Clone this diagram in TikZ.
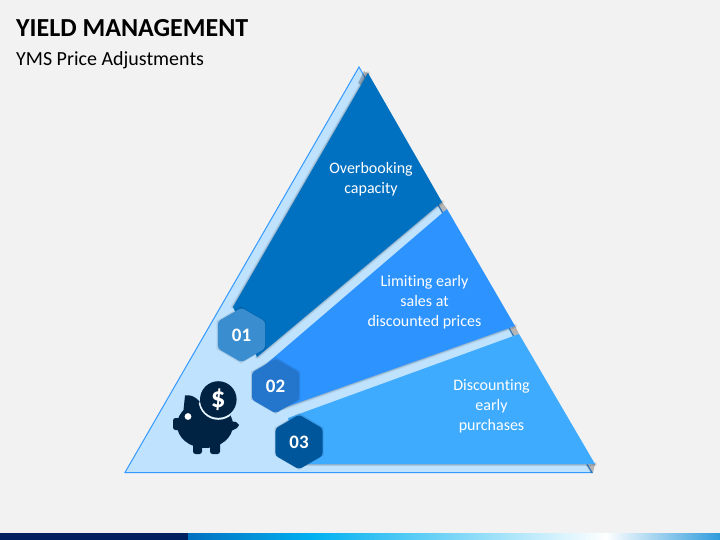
\documentclass[tikz,border=0pt]{standalone}
\usepackage{fontspec}
\setmainfont[Ligatures=NoCommon]{Carlito}
\usetikzlibrary{shapes.geometric}
\definecolor{bgc}{HTML}{F2F2F2}
\definecolor{lightb}{HTML}{BFE3FF}
\definecolor{edgeb}{HTML}{3399FF}
\definecolor{wa}{HTML}{0070C0}
\definecolor{wb}{HTML}{2D93FF}
\definecolor{wc}{HTML}{3FABFF}
\definecolor{ha}{HTML}{3A8DCF}
\definecolor{hb}{HTML}{2475CC}
\definecolor{hc}{HTML}{00569B}
\definecolor{pig}{HTML}{002344}
\definecolor{navy}{HTML}{002060}
\definecolor{barcyan}{HTML}{00B0F0}
\definecolor{barend}{HTML}{2E9BDC}
\tikzset{
  hexnum/.style={regular polygon,regular polygon sides=6,shape border rotate=30,minimum size=54.5pt,inner sep=0pt,rounded corners=3pt,text=white,font=\bfseries\fontsize{19}{20}\selectfont},
  lbl/.style={text=white,align=center,font=\fontsize{16}{20}\selectfont},
  softa/.style={draw=black,draw opacity=.05,line width=4.5pt,line join=round,line cap=round},
  softb/.style={draw=black,draw opacity=.07,line width=3pt,line join=round,line cap=round},
  softc/.style={draw=black,draw opacity=.10,line width=1.5pt,line join=round,line cap=round},
}
\newcommand{\softline}[1]{\path[softa] #1; \path[softb] #1; \path[softc] #1;}
\begin{document}
\begin{tikzpicture}[x=1pt,y=-1pt]
\useasboundingbox (0,0) rectangle (720,540);
\fill[bgc] (0,0) rectangle (720,540);
% bottom bar
\fill[navy] (0,533) rectangle (188,540);
\shade[left color=wa,right color=barcyan] (188,533) rectangle (312,540);
\shade[left color=barcyan,right color=white] (311.5,533) rectangle (606,540);
\shade[left color=white,right color=barend] (605.5,533) rectangle (720,540);
% title
\node[anchor=base west,inner sep=0pt,font=\bfseries\fontsize{26}{28}\selectfont] (title) at (16,37) {YIELD MANAGEMENT};
\node[anchor=base west,inner sep=0pt,font=\fontsize{20}{22}\selectfont] (sub) at (16,65.5) {YMS Price Adjustments};
% triangle
\path[fill=lightb,draw=edgeb,line width=1pt,line join=miter] (359,67) -- (592,472.5) -- (125,472.5) -- cycle;
% shadows at band ends
\fill[black,opacity=.25] (364,71) -- (369,74) -- (362,86) -- (358,83) -- cycle;
\fill[black,opacity=.25] (437,205) -- (442,202) -- (447,209) -- (443,215) -- cycle;
\fill[black,opacity=.25] (509,329) -- (515,326) -- (519,334) -- (513,337) -- cycle;
\fill[black,opacity=.25] (586,465) -- (595,464) -- (593,473) -- (591,473) -- cycle;
% wedge shadows
\softline{(368,73) -- (233,307)}
\softline{(442,202) -- (257,357)}
\softline{(515,326) -- (283,408)}
\softline{(595,464) -- (300,464)}
% wedges
\fill[wa] (368,73) -- (442,202) -- (257,357) -- (233,307) -- cycle;
\fill[wb] (447,209) -- (515,326) -- (283,408) -- (265,365) -- cycle;
\fill[wc] (519,334) -- (595,464) -- (300,464) -- (288,418) -- cycle;
% hexagons
\foreach \c/\n in {241/335,275.5/385.5,299/441.5}{
  \path[fill=black,fill opacity=.10] (\c,\n) +(-24.5,-14) -- +(0,-28.5) -- +(24.5,-14) -- +(24.5,14) -- +(0,28.5) -- +(-24.5,14) -- cycle;
}
\node[hexnum,fill=ha] (h1) at (241.5,335) {01};
\node[hexnum,fill=hb] (h2) at (275.5,386) {02};
\node[hexnum,fill=hc] (h3) at (299,442) {03};
% labels
\node[lbl] (t1) at (371,179) {Overbooking\\capacity};
\node[lbl] (t2) at (424.5,302.5) {Limiting early\\sales at\\discounted prices};
\node[lbl] (t3) at (491.5,406.5) {Discounting\\early\\purchases};
% piggy bank
\fill[pig] (205,425) ellipse (28 and 23);
\fill[pig] (185,395.5) to[out=10,in=120] (204,408) -- (183,415) -- cycle;
\fill[pig,rounded corners=2.5pt] (173,418) rectangle (184,430);
\fill[pig,rounded corners=2.5pt] (193,440) rectangle (202,454);
\fill[pig,rounded corners=2.5pt] (210,440) rectangle (220,454);
\fill[pig] (230,421) -- (236,422) -- (239,425) -- (237,428) -- (231,431) -- cycle;
\fill[white] (188,416.5) circle (3.4);
\begin{scope}
\clip (205,425) ellipse (28 and 23);
\fill[lightb!40!white] (218.3,400) circle (19.8);
\end{scope}
\node[circle,fill=pig,minimum size=36.6pt,inner sep=0pt,text=white,font=\bfseries\fontsize{29}{30}\selectfont] (coin) at (218.3,399.5) {\$};
\end{tikzpicture}
\end{document}
